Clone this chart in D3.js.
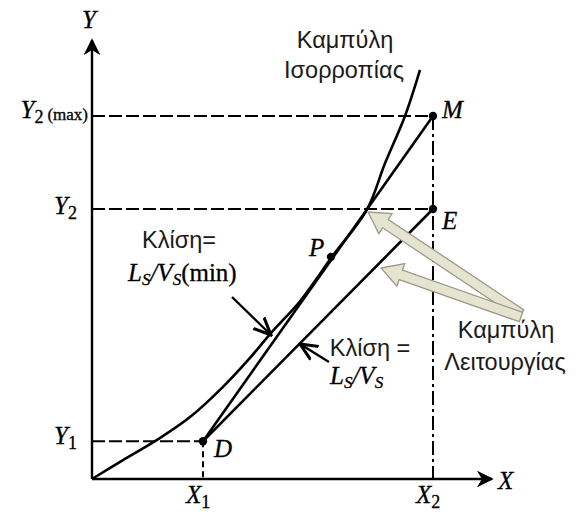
<!DOCTYPE html>
<html>
<head>
<meta charset="utf-8">
<script src="https://cdn.jsdelivr.net/npm/d3@7"></script>
<style>
  body { margin: 0; background: #fff; }
  .serif { font-family: "Liberation Serif", "DejaVu Serif", serif; }
  .sans { font-family: "Liberation Sans", Arial, sans-serif; }
</style>
</head>
<body>
<svg id="chart" width="576" height="512"></svg>
<script>
// levels on the axes (data units, 0..100)
const xLevels = [27.75, 85.25];          // X1, X2
const yLevels = [8.6, 61.5, 82.7];       // Y1, Y2, Y2(max)

// equilibrium curve
const eqX = [0, 7.75, 16.25, 24.5, 32.75, 39.5, 45, 52, 60, 68.8, 73.25, 78.25, 82];
const eqY = [0, 4.3, 8.9, 14.1, 21.0, 27.6, 33.5, 40.5, 50.6, 61.5, 71.9, 82.7, 93.2];

// operating lines D-M (min) and D-E
const opMinX = [27.75, 85.25], opMinY = [8.6, 82.7];
const opX = [27.75, 85.25], opY = [8.6, 61.5];
const pointP = [59.75, 50.6];

const svg = d3.select('#chart');
const margin = {left: 92, right: 84, top: 40, bottom: 33};
const width = 576, height = 512;

const x = d3.scaleLinear().domain([0, 100]).range([margin.left, width - margin.right]);
const y = d3.scaleLinear().domain([0, 100]).range([height - margin.bottom, margin.top]);

const defs = svg.append('defs');
defs.append('marker')
    .attr('id', 'ah').attr('viewBox', '0 0 10 10').attr('refX', 9).attr('refY', 5)
    .attr('markerWidth', 7).attr('markerHeight', 7).attr('orient', 'auto')
  .append('path').attr('d', 'M0,0 L10,5 L0,10 L3,5 Z').attr('fill', '#000');
defs.append('marker')
    .attr('id', 'open').attr('viewBox', '0 0 10 10').attr('refX', 9).attr('refY', 5)
    .attr('markerWidth', 8).attr('markerHeight', 8).attr('orient', 'auto')
  .append('path').attr('d', 'M0,1 L9,5 L0,9').attr('fill', 'none').attr('stroke', '#000').attr('stroke-width', 1.6);

// axes
svg.append('line')
    .attr('x1', x(0)).attr('y1', y(0)).attr('x2', x(0)).attr('y2', y(100))
    .attr('stroke', '#000').attr('stroke-width', 2.4).attr('marker-end', 'url(#ah)');
svg.append('line')
    .attr('x1', x(0)).attr('y1', y(0)).attr('x2', x(100)).attr('y2', y(0))
    .attr('stroke', '#000').attr('stroke-width', 2.4).attr('marker-end', 'url(#ah)');

// dashed guides
const dash = '13,4';
yLevels.forEach((v, i) => {
    const xe = i === 0 ? xLevels[0] : xLevels[1];
    svg.append('line')
        .attr('x1', x(0)).attr('y1', y(v)).attr('x2', x(xe)).attr('y2', y(v))
        .attr('stroke', '#000').attr('stroke-width', 2).attr('stroke-dasharray', dash);
});
svg.append('line')
    .attr('x1', x(xLevels[0])).attr('y1', y(yLevels[0])).attr('x2', x(xLevels[0])).attr('y2', y(0))
    .attr('stroke', '#000').attr('stroke-width', 2).attr('stroke-dasharray', '6,4');
svg.append('line')
    .attr('x1', x(xLevels[1])).attr('y1', y(yLevels[2])).attr('x2', x(xLevels[1])).attr('y2', y(0))
    .attr('stroke', '#000').attr('stroke-width', 2).attr('stroke-dasharray', '14,4,3,4');

// curves
const line = d3.line().x(d => x(d[0])).y(d => y(d[1]));
svg.append('path')
    .datum(eqX.map((v, i) => [v, eqY[i]]))
    .attr('d', line.curve(d3.curveCatmullRom.alpha(0.5)))
    .attr('fill', 'none').attr('stroke', '#000').attr('stroke-width', 2.6);

const straight = d3.line().x(d => x(d[0])).y(d => y(d[1]));
svg.append('path')
    .datum(opMinX.map((v, i) => [v, opMinY[i]]))
    .attr('d', straight)
    .attr('fill', 'none').attr('stroke', '#000').attr('stroke-width', 2.6);
svg.append('path')
    .datum(opX.map((v, i) => [v, opY[i]]))
    .attr('d', straight)
    .attr('fill', 'none').attr('stroke', '#000').attr('stroke-width', 2.6);

// points
const pts = [[opMinX[0], opMinY[0]], [opMinX[1], opMinY[1]], [opX[1], opY[1]], pointP];
svg.selectAll('circle.pt').data(pts).enter().append('circle')
    .attr('cx', d => x(d[0])).attr('cy', d => y(d[1])).attr('r', 4.2).attr('fill', '#000');

// italic serif labels with subscripts
function sym(px, py, main, sub, extra, anchor) {
    const t = svg.append('text').attr('class', 'serif')
        .attr('x', px).attr('y', py).attr('text-anchor', anchor || 'start')
        .attr('font-size', 25).attr('fill', '#000')
        .attr('stroke', '#000').attr('stroke-width', 0.3);
    t.append('tspan').attr('font-style', 'italic').text(main);
    if (sub) t.append('tspan').attr('font-size', 18).attr('dy', 5).text(sub);
    if (extra) t.append('tspan').attr('font-size', 17).attr('dx', 4).attr('dy', -3).text(extra);
    return t;
}
sym(89, 28, 'Y', null, null, 'middle');
sym(498, y(0) + 10, 'X');
sym(88, y(yLevels[2]) + 2, 'Y', '2', '(max)', 'end');
sym(77, y(yLevels[1]) + 5, 'Y', '2', null, 'end');
sym(77, y(yLevels[0]) + 3, 'Y', '1', null, 'end');
sym(x(xLevels[0]) - 17, y(0) + 24, 'X', '1');
sym(x(xLevels[1]) - 17, y(0) + 24, 'X', '2');
sym(x(xLevels[0]) + 11, y(yLevels[0]) + 16, 'D');
sym(x(xLevels[1]) + 9, y(yLevels[1]) + 20, 'E');
sym(x(xLevels[1]) + 9, y(yLevels[2]) + 2, 'M');
sym(x(pointP[0]) - 22, y(pointP[1]) - 1, 'P');

// Greek text
function greek(px, py, s, anchor) {
    svg.append('text').attr('class', 'sans')
        .attr('x', px).attr('y', py).attr('text-anchor', anchor || 'middle')
        .attr('font-size', 23.5).attr('fill', '#1a1a1a').text(s);
}
greek(345, 48, 'Καμπύλη');
greek(344, 78, 'Ισορροπίας');
greek(179, 248, 'Κλίση=');
greek(370, 356, 'Κλίση =');
greek(506, 338, 'Καμπύλη');
greek(505, 370, 'Λειτουργίας');

// Ls/Vs labels
function ratio(px, py, extra) {
    const t = svg.append('text').attr('class', 'serif')
        .attr('x', px).attr('y', py).attr('font-size', 25).attr('fill', '#000')
        .attr('stroke', '#000').attr('stroke-width', 0.3);
    t.append('tspan').attr('font-style', 'italic').text('L');
    t.append('tspan').attr('font-style', 'italic').attr('font-size', 17).attr('dy', 4).text('S');
    t.append('tspan').attr('font-style', 'italic').attr('dy', -4).text('/V');
    t.append('tspan').attr('font-style', 'italic').attr('font-size', 17).attr('dy', 4).text('S');
    if (extra) t.append('tspan').attr('dy', -4).text(extra);
}
ratio(128, 281, '(min)');
ratio(330, 384);

// thin black pointer arrows
svg.append('line').attr('x1', 232).attr('y1', 297).attr('x2', 271).attr('y2', 335)
    .attr('stroke', '#000').attr('stroke-width', 2.4).attr('marker-end', 'url(#open)');
svg.append('line').attr('x1', 329).attr('y1', 362).attr('x2', 300).attr('y2', 344)
    .attr('stroke', '#000').attr('stroke-width', 2.4).attr('marker-end', 'url(#open)');

// block arrows
function blockArrow(x0, y0, x1, y1) {
    const dx = x1 - x0, dy = y1 - y0, len = Math.hypot(dx, dy);
    const ux = dx / len, uy = dy / len, nx = -uy, ny = ux;
    const sw = 5, hw = 12, hl = 21;
    const bx = x1 - ux * hl, by = y1 - uy * hl;
    const p = [
        [x0 + nx * sw, y0 + ny * sw], [bx + nx * sw, by + ny * sw], [bx + nx * hw, by + ny * hw],
        [x1, y1], [bx - nx * hw, by - ny * hw], [bx - nx * sw, by - ny * sw], [x0 - nx * sw, y0 - ny * sw]
    ];
    svg.append('path').attr('d', 'M' + p.map(q => q.join(',')).join('L') + 'Z')
        .attr('fill', '#e4e4d0').attr('stroke', '#9a9a88').attr('stroke-width', 1.3);
}
blockArrow(521, 314, 368, 212);
blockArrow(521, 317, 381, 268);
</script>
</body>
</html>
